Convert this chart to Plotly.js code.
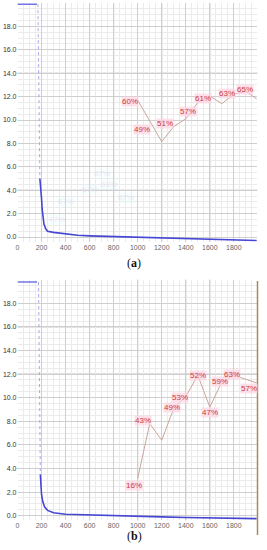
<!DOCTYPE html>
<html><head><meta charset="utf-8">
<script src="https://cdn.plot.ly/plotly-3.0.1.min.js"></script>
<style>html,body{margin:0;padding:0;background:#fff}#c{width:267px;height:550px}</style>
</head><body><div id="c"></div>
<script>
// ---- data (panel a) ----
const topXa = [0, 162];
const topYa = [19.9, 19.9];
const dropXa = [170, 186];
const dropYa = [19.9, 5.0];
const lossXa = [186, 195, 200, 205, 212, 220, 235, 250, 300, 400, 500, 600, 800, 1000, 1200, 1400, 1600, 1800, 1990];
const lossYa = [5.0, 4.2, 3.3, 2.4, 1.6, 1.1, 0.7, 0.5, 0.4, 0.25, 0.15, 0.1, 0.05, 0.0, -0.1, -0.15, -0.2, -0.25, -0.3];
const accXa = [1000, 1100, 1200, 1300, 1400, 1500, 1600, 1700, 1800, 1900, 1990];
const accYa = [11.7, 9.9, 8.15, 9.45, 10.1, 11.5, 12.05, 11.4, 12.2, 12.45, 11.8];
const labTa = ['60%', '49%', '51%', '57%', '61%', '63%', '65%'];
const labXa = [935, 1037, 1226, 1415, 1545, 1739, 1891];
const labYa = [11.6, 9.17, 9.66, 10.73, 11.88, 12.25, 12.65];

// ---- data (panel b) ----
const topXb = [0, 162];
const topYb = [19.8, 19.8];
const dropXb = [175, 190];
const dropYb = [19.8, 3.5];
const lossXb = [190, 195, 200, 210, 225, 250, 300, 400, 600, 800, 1000, 1200, 1400, 1600, 1800, 1990];
const lossYb = [3.5, 2.6, 1.8, 1.2, 0.75, 0.45, 0.25, 0.12, 0.05, 0.0, -0.05, -0.1, -0.15, -0.2, -0.2, -0.25];
const accXb = [1000, 1100, 1200, 1300, 1400, 1500, 1600, 1700, 1800, 1990];
const accYb = [3.17, 7.8, 6.4, 9.1, 10.1, 11.9, 9.2, 11.35, 11.9, 11.25];
const labTb = ['16%', '43%', '49%', '53%', '52%', '47%', '59%', '63%', '57%'];
const labXb = [967, 1042, 1286, 1355, 1505, 1604, 1687, 1785, 1923];
const labYb = [2.6, 8.1, 9.19, 10.0, 11.9, 8.76, 11.36, 12.0, 10.74];

// ticks
const yTickVals = [0, 2, 4, 6, 8, 10, 12, 14, 16, 18];
const yTickText = ['0.0', '2.0', '4.0', '6.0', '8.0', '10.0', '12.0', '14.0', '16.0', '18.0'];
const xTickVals = [0, 200, 400, 600, 800, 1000, 1200, 1400, 1600, 1800];
const xTickText = ['0', '200', '400', '600', '800', '1000', '1200', '1400', '1600', '1800'];

// emphasised grid lines
const darkXa = [600, 800, 1200, 1600];
const darkYa = [4, 14];
const darkXb = [600, 1000, 1400, 1600];
const darkYb = [4, 12, 16];

const BLUE = '#4646d2';
const ACC = '#c8a69c';

function lossTraces(xa, ya, tx, ty, dx, dy, lx, ly) {
  return [
    {x: tx, y: ty, xaxis: xa, yaxis: ya, mode: 'lines', line: {color: '#7474e2', width: 1.5}, hoverinfo: 'skip'},
    {x: dx, y: dy, xaxis: xa, yaxis: ya, mode: 'lines', line: {color: '#a8a8ee', width: 1, dash: 'dot'}, hoverinfo: 'skip'},
    {x: lx, y: ly, xaxis: xa, yaxis: ya, mode: 'lines', line: {color: BLUE, width: 1.6}, hoverinfo: 'skip'}
  ];
}
function accTrace(xa, ya, x, y) {
  return {x: x, y: y, xaxis: xa, yaxis: ya, mode: 'lines', line: {color: ACC, width: 1}, hoverinfo: 'skip'};
}

const data = [
  ...lossTraces('x', 'y', topXa, topYa, dropXa, dropYa, lossXa, lossYa),
  accTrace('x', 'y', accXa, accYa),
  ...lossTraces('x2', 'y2', topXb, topYb, dropXb, dropYb, lossXb, lossYb),
  accTrace('x2', 'y2', accXb, accYb)
];

function xax(anchor) {
  return {
    anchor: anchor, domain: [17.5 / 267, 257.3 / 267], range: [0, 1995],
    tickvals: xTickVals, ticktext: xTickText, ticks: '', showline: false, zeroline: false,
    gridcolor: '#cfcfcf', gridwidth: 1,
    minor: {dtick: 50, tick0: 0, showgrid: true, gridcolor: '#ebebeb', gridwidth: 1},
    tickfont: {family: 'Liberation Sans, Arial, sans-serif', size: 7, color: '#666'},
    automargin: false, fixedrange: true
  };
}
function yax(anchor, dom) {
  return {
    anchor: anchor, domain: dom, range: [-0.4, 20],
    tickvals: yTickVals, ticktext: yTickText, ticks: '', showline: false, zeroline: false,
    gridcolor: '#cfcfcf', gridwidth: 1,
    minor: {dtick: 0.5, tick0: 0, showgrid: true, gridcolor: '#ebebeb', gridwidth: 1},
    tickfont: {family: 'Liberation Sans, Arial, sans-serif', size: 7, color: '#333'},
    automargin: false, fixedrange: true
  };
}

const annotations = [];
function addLabels(xr, yr, T, X, Y) {
  for (let i = 0; i < T.length; i++) {
    annotations.push({xref: xr, yref: yr, x: X[i], y: Y[i], text: T[i], showarrow: false,
      font: {family: 'Liberation Sans, Arial, sans-serif', size: 8, color: '#cc3a3a'},
      bgcolor: 'rgba(255,212,226,0.7)', borderpad: 0});
  }
}
addLabels('x', 'y', labTa, labXa, labYa);
addLabels('x2', 'y2', labTb, labXb, labYb);

// faint ghost labels (compression artefacts in the original)
const ghostT = ['67%', '63%', '67%', '67%', '67%', '47%'];
const ghostX = [700, 760, 600, 900, 400, 330];
const ghostY = [5.4, 4.5, 4.1, 3.4, 3.0, 1.5];
for (let i = 0; i < ghostT.length; i++) {
  annotations.push({xref: 'x', yref: 'y', x: ghostX[i], y: ghostY[i], text: ghostT[i], showarrow: false,
    font: {family: 'Liberation Sans, Arial, sans-serif', size: 8, color: 'rgba(245,170,230,0.3)'},
    bgcolor: 'rgba(215,250,250,0.22)', borderpad: 0});
}

annotations.push({xref: 'paper', yref: 'paper', x: 134 / 267, y: 1 - 263 / 550, text: '(<b>a</b>)', showarrow: false,
  font: {family: 'Liberation Serif, DejaVu Serif, serif', size: 12, color: '#111'}});
annotations.push({xref: 'paper', yref: 'paper', x: 134 / 267, y: 1 - 545 / 550, text: '(<b>b</b>)', showarrow: false,
  font: {family: 'Liberation Serif, DejaVu Serif, serif', size: 12, color: '#111'}});

const shapes = [];
function darkLines(xr, yr, DX, DY) {
  DX.forEach(v => shapes.push({type: 'line', xref: xr, yref: yr + ' domain', x0: v, x1: v, y0: 0, y1: 1, line: {color: '#b4b4b4', width: 1}, layer: 'below'}));
  DY.forEach(v => shapes.push({type: 'line', xref: xr + ' domain', yref: yr, x0: 0, x1: 1, y0: v, y1: v, line: {color: '#b4b4b4', width: 1}, layer: 'below'}));
}
darkLines('x', 'y', darkXa, darkYa);
darkLines('x2', 'y2', darkXb, darkYb);
// right border of panel b
shapes.push({type: 'line', xref: 'paper', yref: 'paper', x0: 257.5 / 267, x1: 257.5 / 267, y0: 1 - 281 / 550, y1: 1 - 535 / 550, line: {color: '#a88a55', width: 1.5}});

const layout = {
  width: 267, height: 550, margin: {l: 0, r: 0, t: 0, b: 0},
  paper_bgcolor: '#fff', plot_bgcolor: '#fff', showlegend: false,
  xaxis: xax('y'), yaxis: yax('x', [1 - 241.7 / 550, 1 - 3 / 550]),
  xaxis2: xax('y2'), yaxis2: yax('x2', [1 - 520.4 / 550, 1 - 279.7 / 550]),
  annotations: annotations, shapes: shapes
};

Plotly.newPlot('c', data, layout, {staticPlot: true, displayModeBar: false});
</script></body></html>
